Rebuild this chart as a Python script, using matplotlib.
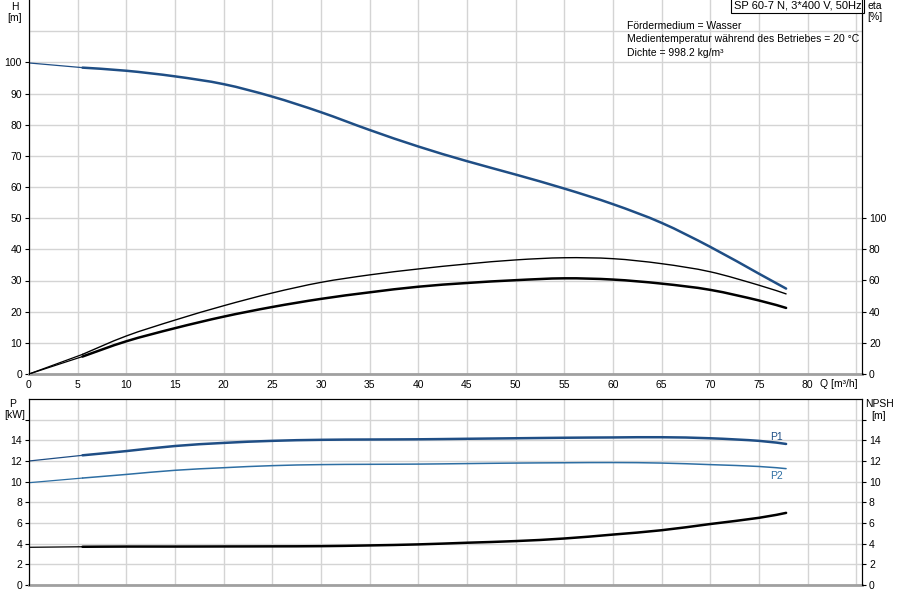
import numpy as np
import matplotlib.pyplot as plt
from matplotlib.path import Path
from matplotlib.patches import PathPatch

plt.rcParams['font.family'] = ['Liberation Sans', 'DejaVu Sans']
plt.rcParams['font.size'] = 7.5

# ---- data ----
q = [0, 5.5, 10, 15, 20, 25, 30, 35, 40, 45, 50, 55, 60, 65, 70, 75, 77.8]
head = [99.8, 98.3, 97.3, 95.5, 93.0, 89.0, 84.0, 78.3, 73.0, 68.3, 64.0, 59.5, 54.5, 48.5, 40.8, 32.2, 27.4]
eta_pump = [0, 12.6, 24.4, 34.6, 43.8, 52.0, 58.8, 63.6, 67.4, 70.6, 73.2, 74.6, 74.0, 70.8, 65.6, 57.0, 51.4]
eta_total = [0, 11.2, 21.0, 29.4, 36.8, 43.0, 48.2, 52.4, 56.0, 58.4, 60.2, 61.4, 60.6, 58.0, 54.0, 47.2, 42.4]
p1 = [12.0, 12.55, 12.96, 13.45, 13.75, 13.95, 14.05, 14.08, 14.1, 14.15, 14.2, 14.25, 14.28, 14.3, 14.2, 13.95, 13.65]
p2 = [9.9, 10.35, 10.7, 11.1, 11.35, 11.55, 11.65, 11.68, 11.7, 11.75, 11.8, 11.83, 11.85, 11.8, 11.65, 11.47, 11.26]
npsh = [3.65, 3.7, 3.72, 3.72, 3.73, 3.74, 3.76, 3.83, 3.93, 4.09, 4.25, 4.5, 4.88, 5.3, 5.9, 6.5, 6.98]

title = 'SP 60-7 N, 3*400 V, 50Hz'
info = ['Fördermedium = Wasser',
        'Medientemperatur während des Betriebes = 20 °C',
        'Dichte = 998.2 kg/m³']

blue = '#1f4e85'
blue2 = '#2d6ea3'
grid_c = '#d4d4d4'
W, H = 900, 600


def smooth(ax, x, y, **kw):
    # draw a smooth curve through the read points (Catmull-Rom as bezier)
    x = np.asarray(x, float); y = np.asarray(y, float)
    verts = [(x[0], y[0])]
    codes = [Path.MOVETO]
    n = len(x)
    for i in range(n - 1):
        i0, i3 = max(i - 1, 0), min(i + 2, n - 1)
        c1 = (x[i] + (x[i + 1] - x[i0]) / 6, y[i] + (y[i + 1] - y[i0]) / 6)
        c2 = (x[i + 1] - (x[i3] - x[i]) / 6, y[i + 1] - (y[i3] - y[i]) / 6)
        verts += [c1, c2, (x[i + 1], y[i + 1])]
        codes += [Path.CURVE4] * 3
    ax.add_patch(PathPatch(Path(verts, codes), fill=False, capstyle='round', **kw))


def plot_split(ax, x, y, color, lw=1.8, x0=5.5):
    # thin straight part before the operating range, smooth part after
    x = np.asarray(x); y = np.asarray(y)
    ax.plot(x[x <= x0], y[x <= x0], color=color, lw=min(lw, 0.9))
    smooth(ax, x[x >= x0], y[x >= x0], color=color, lw=lw)


def px(x0, y0, x1, y1):
    return [x0 / W, 1 - y1 / H, (x1 - x0) / W, (y1 - y0) / H]


fig = plt.figure(figsize=(9, 6), dpi=100)
ax = fig.add_axes(px(29, 0, 862, 374))
ax2 = fig.add_axes(px(29, 399, 862, 585))

for a in (ax, ax2):
    a.set_xlim(0, 85.6)
    a.set_xticks(np.arange(0, 86, 5))
    a.grid(True, color=grid_c, lw=1)
    a.set_axisbelow(True)
    a.spines['bottom'].set_color('#a0a0a0')
    a.spines['bottom'].set_linewidth(2)
    a.tick_params(axis='x', length=0, pad=4)
    a.tick_params(axis='y', length=3, pad=2)

# ---- top panel: head + efficiency ----
ax.set_ylim(0, 120)
ax.set_yticks(np.arange(0, 101, 10))
ax.axhline(110, color=grid_c, lw=1, zorder=0)
ax.spines['top'].set_visible(False)
ax.set_xticklabels([str(v) if v <= 80 else '' for v in range(0, 86, 5)])

plot_split(ax, q, head, blue)

axe = ax.twinx()
axe.set_ylim(0, 240)
axe.set_yticks(np.arange(0, 101, 20))
axe.spines['top'].set_visible(False)
axe.spines['bottom'].set_visible(False)
axe.tick_params(axis='y', length=3, pad=2)
plot_split(axe, q, eta_pump, 'black', lw=1.0)
plot_split(axe, q, eta_total, 'black')

fig.text(820 / W, 1 - 384 / H, 'Q [m³/h]', ha='left', va='center')
ax.text(0.999, 0.999, title, transform=ax.transAxes, ha='right', va='top',
        fontsize=8, bbox=dict(boxstyle='square,pad=0.25', fc='white', ec='black', lw=0.8))
for i, line in enumerate(info):
    fig.text(627 / W, 1 - (26 + 13.5 * i) / H, line, ha='left', va='center')

fig.text(15 / W, 1 - 7 / H, 'H', ha='center', va='center')
fig.text(15 / W, 1 - 18 / H, '[m]', ha='center', va='center')
fig.text(875 / W, 1 - 6 / H, 'eta', ha='center', va='center')
fig.text(875 / W, 1 - 17 / H, '[%]', ha='center', va='center')

# ---- bottom panel: power + NPSH ----
ax2.set_ylim(0, 18)
yt = np.arange(0, 17, 2)
ylab = [str(v) if v <= 14 else '' for v in yt]
ax2.set_yticks(yt)
ax2.set_yticklabels(ylab)
ax2.set_xticklabels([])

plot_split(ax2, q, p1, blue)
plot_split(ax2, q, p2, blue2, lw=1.1)
ax2.text(q[-1] - 0.3, p1[-1] + 0.2, 'P1', color=blue, ha='right', va='bottom')
ax2.text(q[-1] - 0.3, p2[-1] - 0.25, 'P2', color=blue2, ha='right', va='top')

axn = ax2.twinx()
axn.set_ylim(0, 18)
axn.set_yticks(yt)
axn.set_yticklabels(ylab)
axn.spines['bottom'].set_visible(False)
axn.tick_params(axis='y', length=3, pad=2)
plot_split(axn, q, npsh, 'black')

fig.text(13 / W, 1 - 404 / H, 'P', ha='center', va='center')
fig.text(15 / W, 1 - 415 / H, '[kW]', ha='center', va='center')
fig.text(879 / W, 1 - 404 / H, 'NPSH', ha='center', va='center')
fig.text(879 / W, 1 - 416 / H, '[m]', ha='center', va='center')

fig.savefig('out.png', dpi=100)
